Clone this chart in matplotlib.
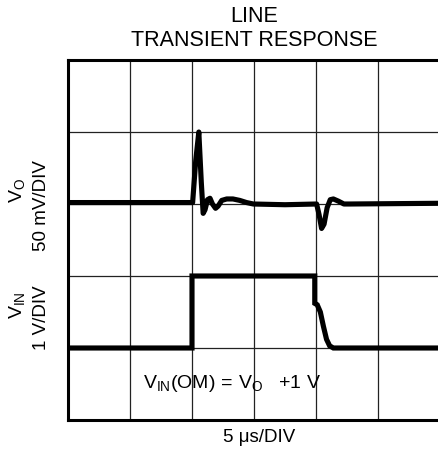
import matplotlib

matplotlib.use("Agg")
import matplotlib.pyplot as plt

plt.rcParams["font.family"] = ["Liberation Sans", "DejaVu Sans"]
plt.rcParams["mathtext.fontset"] = "custom"
plt.rcParams["mathtext.rm"] = "Liberation Sans"
plt.rcParams["mathtext.it"] = "Liberation Sans"

# output trace (divisions)
vo_t = [0.0, 2.01, 2.06, 2.11, 2.15, 2.18, 2.21, 2.25, 2.29, 2.33, 2.38, 2.42, 2.48,
        2.56, 2.66, 2.77, 2.88, 2.99, 3.5, 4.01, 4.05, 4.09, 4.13, 4.18, 4.23, 4.28,
        4.36, 4.45, 4.55, 6.0]
vo_v = [3.02, 3.02, 3.6, 4.0, 3.3, 2.87, 2.92, 3.06, 3.08, 3.0, 2.94, 2.97, 3.05,
        3.07, 3.07, 3.05, 3.02, 3.0, 2.99, 3.0, 2.85, 2.66, 2.72, 2.95, 3.06, 3.07,
        3.04, 3.0, 3.0, 3.01]

# input step (divisions)
vin_t = [0.0, 2.0, 2.0, 3.98, 3.98, 4.02, 4.07, 4.12, 4.17, 4.22, 4.28, 6.0]
vin_v = [1.0, 1.0, 2.0, 2.0, 1.62, 1.6, 1.5, 1.3, 1.12, 1.03, 1.0, 1.0]

n_xdiv = 6
n_ydiv = 5

fig = plt.figure(figsize=(4.38, 4.53), dpi=100)
ax = fig.add_axes([68 / 438, 33 / 453, 372 / 438, 360 / 453])
ax.set_xlim(0, n_xdiv)
ax.set_ylim(0, n_ydiv)

for i in range(1, n_xdiv):
    ax.axvline(i, color="#222222", lw=0.9, zorder=1)
for j in range(1, n_ydiv):
    ax.axhline(j, color="#222222", lw=0.9, zorder=1)

ax.plot(vo_t, vo_v, color="black", lw=3.7, solid_joinstyle="round", zorder=3)
ax.plot(vin_t, vin_v, color="black", lw=3.7, solid_joinstyle="miter", zorder=3)

for side in ["left", "top", "bottom", "right"]:
    ax.spines[side].set_linewidth(2.2)
ax.set_xticks([])
ax.set_yticks([])

ax.text(1.21, 0.5, r"$\mathrm{V_{IN}(OM)\,=\,V_{O}\ \ \ {+}1\ V}$", fontsize=14,
        ha="left", va="center")

fig.text(254 / 438, 1 - 16 / 453, "LINE", fontsize=15.5, ha="center", va="center")
fig.text(254 / 438, 1 - 41 / 453, "TRANSIENT RESPONSE", fontsize=15.5, ha="center", va="center")
fig.text(259 / 438, 1 - 438 / 453, "5 μs/DIV", fontsize=13.5, ha="center", va="center")

fig.text(17 / 438, 1 - 190 / 453, r"$\mathrm{V_{O}}$", fontsize=14, rotation=90,
         ha="center", va="center")
fig.text(42 / 438, 1 - 206 / 453, "50 mV/DIV", fontsize=13.5, rotation=90,
         ha="center", va="center")
fig.text(17 / 438, 1 - 305 / 453, r"$\mathrm{V_{IN}}$", fontsize=14, rotation=90,
         ha="center", va="center")
fig.text(42 / 438, 1 - 318 / 453, "1 V/DIV", fontsize=13.5, rotation=90,
         ha="center", va="center")

fig.savefig("out.png", dpi=100)
